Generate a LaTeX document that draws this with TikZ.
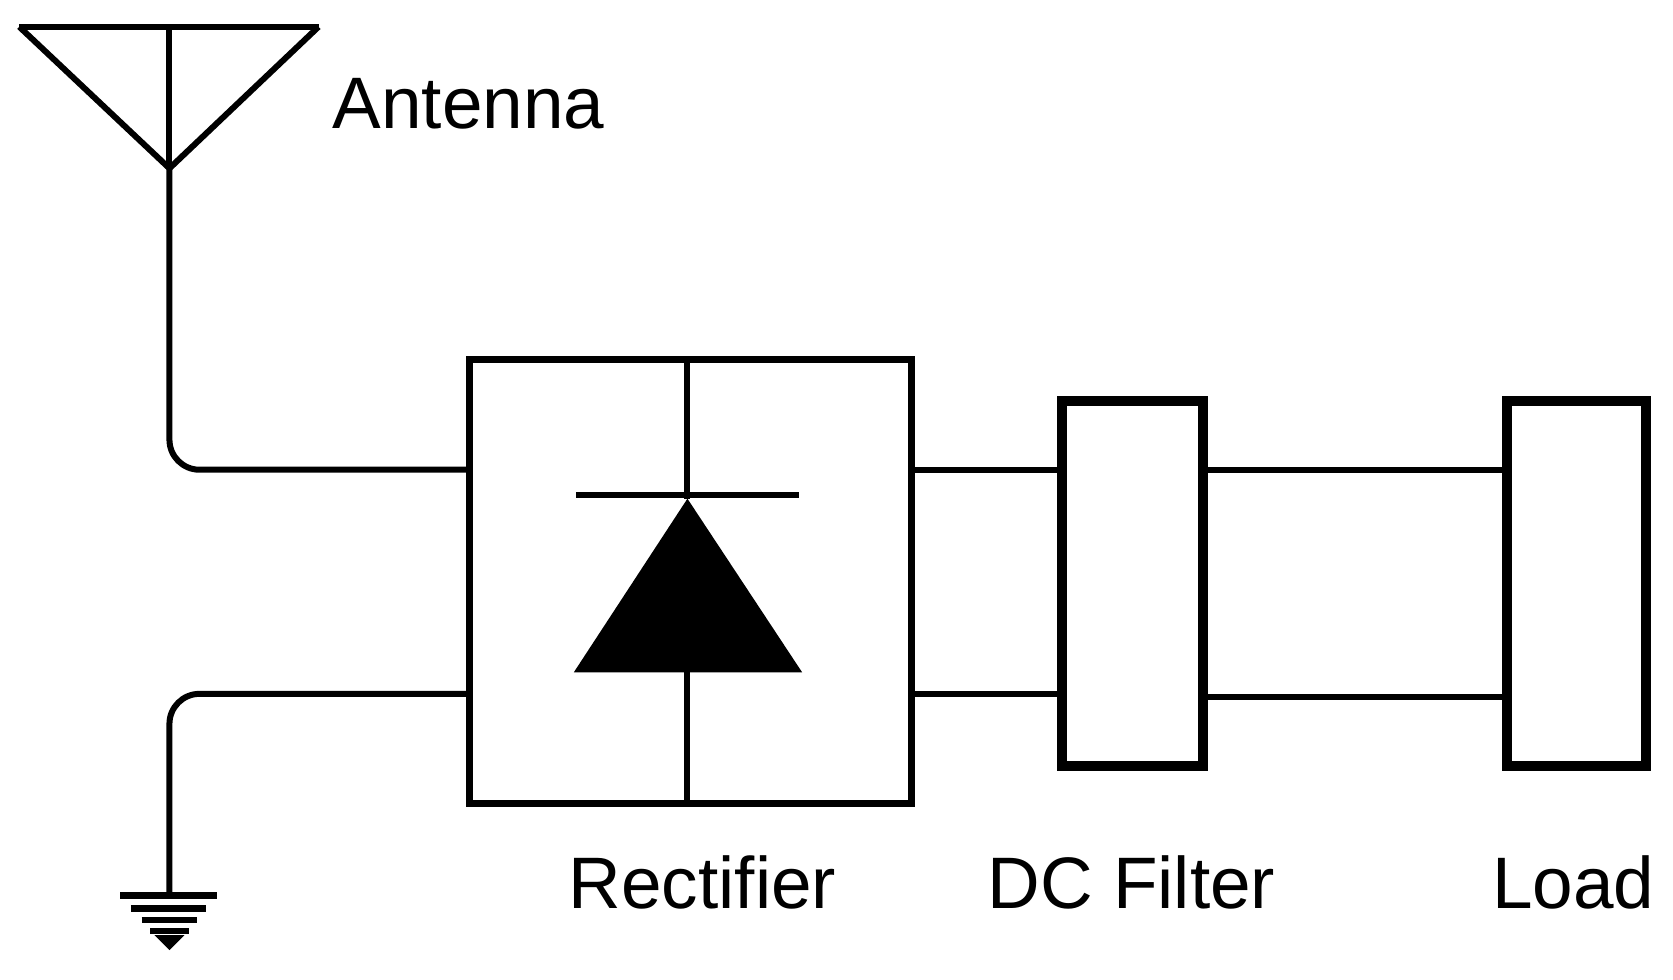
\documentclass[tikz,border=0pt]{standalone}
\usepackage{fontspec}
\setmainfont{Liberation Sans}
\begin{document}
\begin{tikzpicture}[x=0.5pt,y=-0.5pt,
  wire/.style={line width=2.8pt},
  thick box/.style={draw,line width=4.5pt},
  lbl/.style={font=\fontsize{34}{40}\selectfont}]
\useasboundingbox (0,0) rectangle (1560,913);
% antenna
\coordinate (ap) at (158,157);
\draw[wire] (18,25) -- (297,25);
\draw[wire] (18,25) -- (ap) -- (297,25);
\draw[wire] (158,25) -- (ap);
\node[lbl] (antl) at (437,97) {Antenna};
% rectifier
\node[draw,line width=3.2pt,minimum width=206pt,minimum height=207pt,inner sep=0] (rect) at (644,542.5) {};
\coordinate (dtop) at (641,465);
\draw[wire] (641,333) -- (dtop);
\draw[wire] (537,462) -- (745,462);
\fill (dtop) -- (748,627) -- (535,627) -- cycle;
\draw[wire] (641,627) -- (641,752);
\node[lbl] (rl) at (655,823) {Rectifier};
% antenna and ground wires
\coordinate (gnd) at (158,835);
\draw[wire,rounded corners=14pt] (ap) -- (158,438) -- (rect.west |- 0,438);
\draw[wire,rounded corners=14pt] (rect.west |- 0,647) -- (158,647) -- (gnd);
\draw[line width=3pt] (112,835) -- (202,835);
\draw[line width=3pt] (122,847) -- (192,847);
\draw[line width=3pt] (132,858) -- (184,858);
\draw[line width=3pt] (140,868) -- (176,868);
\fill (144,872) -- (172,872) -- (158,886) -- cycle;
% DC filter
\node[thick box,minimum width=66pt,minimum height=170pt,inner sep=0] (dc) at (1056,544) {};
\node[lbl] (dcl) at (1055,823) {DC Filter};
% load
\node[thick box,minimum width=65pt,minimum height=170pt,inner sep=0] (load) at (1470,544) {};
\node[lbl] (ll) at (1467,823) {Load};
% connections
\draw[wire] (rect.east |- 0,438) -- (dc.west |- 0,438);
\draw[wire] (rect.east |- 0,647) -- (dc.west |- 0,647);
\draw[wire] (dc.east |- 0,438) -- (load.west |- 0,438);
\draw[wire] (dc.east |- 0,650) -- (load.west |- 0,650);
\end{tikzpicture}
\end{document}
